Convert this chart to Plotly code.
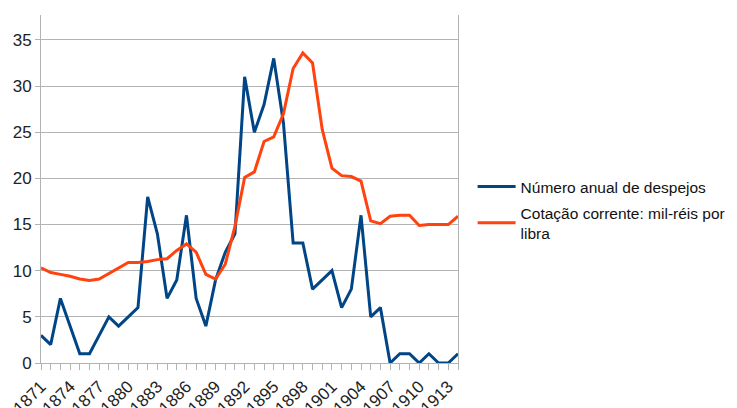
import plotly.graph_objects as go

years = list(range(1871, 1915))

despejos = [3, 2, 7, 4, 1, 1, 3, 5, 4, 5,
            6, 18, 14, 7, 9, 16, 7, 4, 9, 12,
            14, 31, 25, 28, 33, 26, 13, 13, 8, 9,
            10, 6, 8, 16, 5, 6, 0, 1, 1, 0,
            1, 0, 0, 1]

cotacao = [10.3, 9.8, 9.6, 9.4, 9.1, 8.95, 9.1, 9.7, 10.3, 10.9,
           10.9, 11.0, 11.2, 11.3, 12.2, 12.9, 12.0, 9.6, 9.1, 10.7,
           14.8, 20.1, 20.7, 24.0, 24.5, 27.0, 31.9, 33.6, 32.5, 25.3,
           21.1, 20.3, 20.2, 19.7, 15.4, 15.1, 15.9, 16.0, 16.0, 14.9,
           15.0, 15.0, 15.0, 15.9]

name_despejos = "Número anual de despejos"
name_cotacao = "Cotação corrente: mil-réis por<br>libra"

tick_years = list(range(1871, 1914, 3))
tick_text = [str(y) for y in tick_years]
y_ticks = [0, 5, 10, 15, 20, 25, 30, 35]

grid = "#b3b3b3"

fig = go.Figure()
fig.add_trace(go.Scatter(x=years, y=despejos, mode="lines", name=name_despejos,
                         legendgroup="a",
                         line=dict(color="#004586", width=3)))
fig.add_trace(go.Scatter(x=years, y=cotacao, mode="lines", name=name_cotacao,
                         legendgroup="b",
                         line=dict(color="#ff420e", width=3)))

fig.update_layout(
    template="none",
    width=729, height=400,
    margin=dict(l=33, r=279, t=7, b=45, pad=0, autoexpand=False),
    paper_bgcolor="white", plot_bgcolor="white",
    font=dict(family="Liberation Sans, Arial, sans-serif", size=16, color="#222222"),
    showlegend=True,
    legend=dict(x=1.035, y=0.44, xanchor="left", yanchor="middle",
                font=dict(size=15.5, color="#111111"), traceorder="grouped",
                tracegroupgap=3, itemwidth=38, bgcolor="rgba(0,0,0,0)"),
)

fig.update_xaxes(
    range=[1871, 1914], tickmode="array", tickvals=tick_years, ticktext=tick_text,
    tickangle=-45, showgrid=False, zeroline=False,
    showline=True, linecolor=grid, linewidth=1,
    ticks="outside", ticklen=6, tickcolor=grid, ticklabelstandoff=0,
    minor=dict(dtick=1, tick0=1871, ticks="outside", ticklen=6, tickcolor=grid, showgrid=False),
    tickfont=dict(size=17, color="#222222"), automargin=False,
)
fig.update_yaxes(
    range=[0, 37.7], tickmode="array", tickvals=y_ticks,
    showgrid=True, gridcolor=grid, gridwidth=1, zeroline=False,
    showline=True, mirror=True, linecolor=grid, linewidth=1,
    ticks="outside", ticklen=5, tickcolor=grid,
    tickfont=dict(size=17, color="#222222"), automargin=False,
)

fig.write_html("out.html")
